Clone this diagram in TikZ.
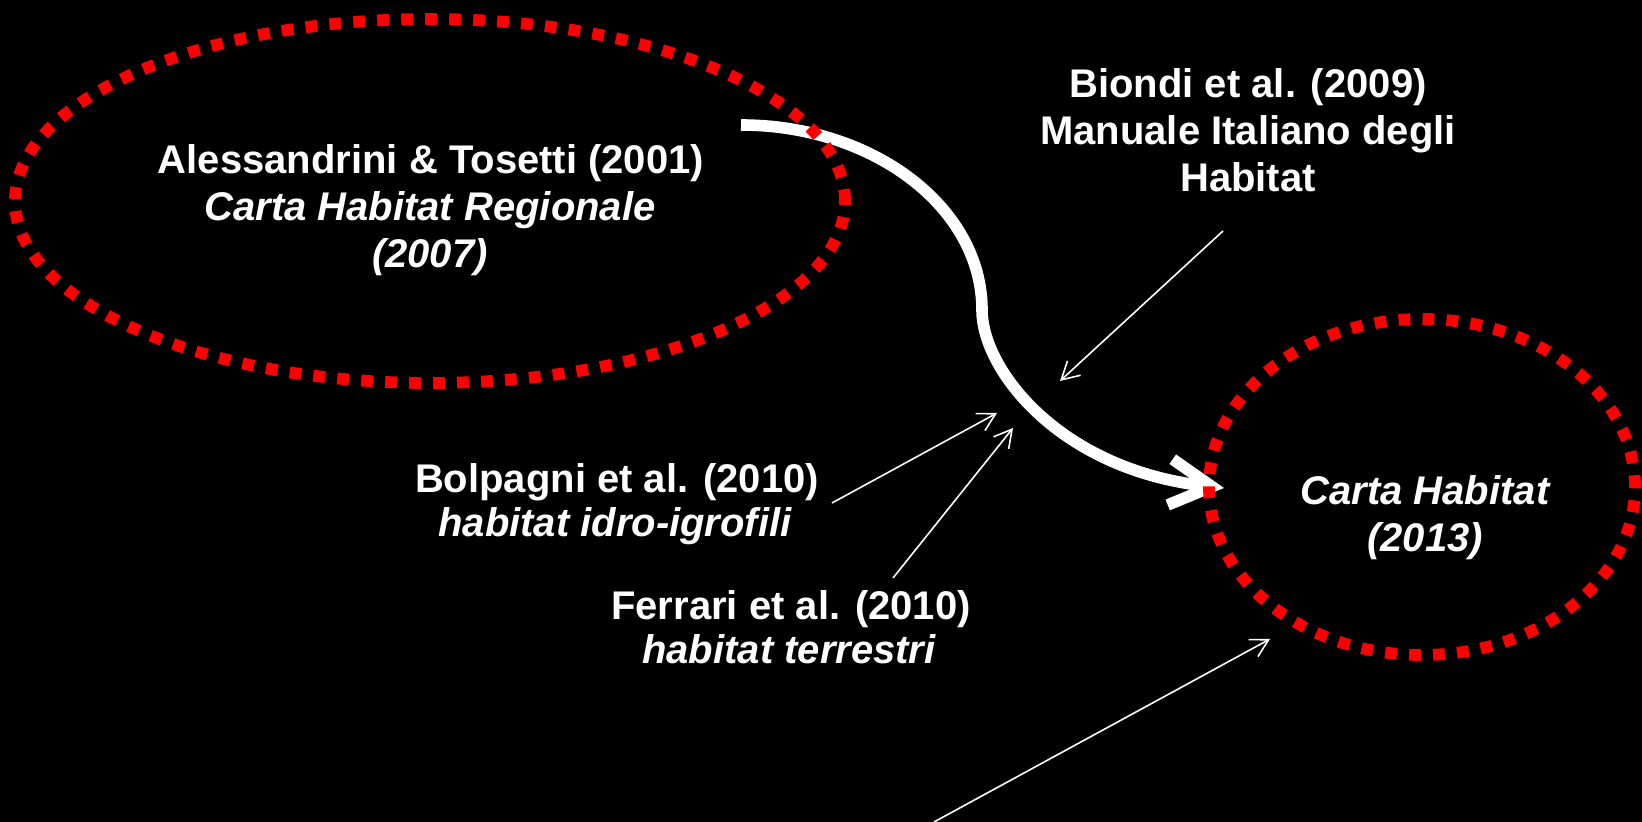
\documentclass[tikz,border=0pt]{standalone}
\usepackage{fontspec}
\setmainfont{Liberation Sans}
\usetikzlibrary{arrows.meta,shapes.geometric}
\tikzset{
  lbl/.style={font=\bfseries\fontsize{20pt}{23pt}\selectfont, text=white, inner sep=0pt, anchor=base},
  ilbl/.style={lbl, font=\bfseries\itshape\fontsize{20pt}{23pt}\selectfont},
  reddots/.style={ellipse, draw=red, line width=5.9pt, dash pattern=on 5.9pt off 6.1pt, inner sep=0pt},
  thinarrow/.style={draw=white, line width=0.8pt, -{Straight Barb[length=8.7pt,width=9.7pt]}},
  bigarrow/.style={draw=white, line width=5.8pt, -{Straight Barb[length=21pt,width=23pt]}}
}
\begin{document}
\begin{tikzpicture}[x=0.5pt,y=-0.5pt]
\fill[black] (0,0) rectangle (1642,822);
\useasboundingbox (0,0) rectangle (1642,822);

% big curved arrow (drawn below the ellipses)
\coordinate (bas) at (741,125);
\coordinate (bam) at (982,310);
\coordinate (bae) at (1224,488);
\draw[bigarrow] (bas) .. controls (874,125) and (982,208) .. (bam)
                      .. controls (982,370) and (1060,470) .. (bae);

% dotted ellipses
\node[reddots, minimum width=415pt, minimum height=182pt] (E1) at (430,201) {};
\node[reddots, minimum width=213pt, minimum height=168pt] (E2) at (1422,487) {};

% texts
\node[lbl]  (a1) at (431,174) {Alessandrini \& Tosetti (2001)};
\node[ilbl] (a2) at (430,221) {Carta Habitat Regionale};
\node[ilbl] (a3) at (430,268) {(2007)};

\node[lbl] (b1) at (1248,98)  {Biondi et al. (2009)};
\node[lbl] (b2) at (1248,145) {Manuale Italiano degli};
\node[lbl] (b3) at (1248,192) {Habitat};

\node[lbl]  (c1) at (617,493) {Bolpagni et al. (2010)};
\node[ilbl] (c2) at (615,537) {habitat idro-igrofili};

\node[lbl]  (d1) at (791,619) {Ferrari et al. (2010)};
\node[ilbl] (d2) at (789,663) {habitat terrestri};

\node[ilbl] (e1) at (1425,505) {Carta Habitat};
\node[ilbl] (e2) at (1425,552) {(2013)};

% thin arrows
\coordinate (bis) at (1223,231);
\coordinate (bie) at (1060,381);
\coordinate (bos) at (832,503);
\coordinate (boe) at (997,413);
\coordinate (fes) at (893,578);
\coordinate (fee) at (1013,428);
\coordinate (lws) at (934,822);
\coordinate (lwe) at (1270,639);
\draw[thinarrow] (bis) -- (bie);
\draw[thinarrow] (bos) -- (boe);
\draw[thinarrow] (fes) -- (fee);
\draw[thinarrow] (lws) -- (lwe);
\end{tikzpicture}
\end{document}
